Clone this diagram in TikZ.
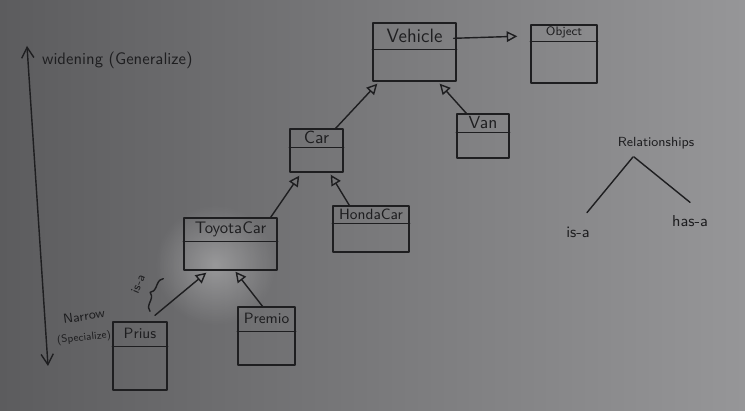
\documentclass[tikz,border=0pt]{standalone}
\usepackage{tikz}
\usetikzlibrary{calc, arrows.meta, decorations.pathreplacing, fadings}

\definecolor{board}{RGB}{128,128,130}
\definecolor{boardlite}{RGB}{150,150,152}
\definecolor{boarddark}{RGB}{92,92,94}
\definecolor{marker}{RGB}{30,30,32}

\tikzfading[name=glare, inner color=transparent!70, outer color=transparent!100]

\tikzset{
  ink/.style={draw=marker, line width=0.8pt, line cap=round, line join=round},
  classbox/.style={ink, rectangle, inner sep=0pt},
  word/.style={text=marker, font=\sffamily, inner sep=1pt},
  isa/.style={ink, -{Triangle[open, length=6pt, width=6pt]}},
  span/.style={ink, {Straight Barb[length=6pt, width=7pt]}-{Straight Barb[length=6pt, width=7pt]}},
}

\begin{document}
\begin{tikzpicture}[x=0.02cm, y=-0.02cm]
  % board
  \useasboundingbox (0,0) rectangle (745,411);
  \shade[left color=boarddark, right color=boardlite] (0,0) rectangle (745,411);
  \fill[white, path fading=glare] (215,265) circle (60);

  % classes: name/x/y/w/h/split/font size/label
  \foreach \cls/\x/\y/\w/\h/\sp/\fs/\lbl in {
      vehicle/373/23/83/58/27/11/Vehicle,
      object/531/25/66/58/17/7/Object,
      car/290/129/53/43/19/10/Car,
      van/457/114/52/44/19/10/Van,
      toyota/184/218/93/52/24/9.5/ToyotaCar,
      honda/333/206/76/46/18/8.5/HondaCar,
      prius/113/322/54/68/25/8.5/Prius,
      premio/238/307/57/58/25/8.5/Premio}{
    \node[classbox, minimum width=\w*0.2mm, minimum height=\h*0.2mm] (\cls) at (\x+\w/2, \y+\h/2) {};
    \draw[ink] ($(\cls.north west)+(0,\sp)$) -- ($(\cls.north east)+(0,\sp)$);
    \node[word, font=\sffamily\fontsize{\fs}{\fs}\selectfont] (\cls-name) at ($(\cls.north)+(0,\sp/2)$) {\lbl};
  }

  % inheritance
  \draw[isa] ($(vehicle.north east)+(-3,16)$) -- ($(object.north west)+(-13,12)$);
  \draw[isa] ($(car.north east)+(-8,0)$) -- ($(vehicle.south west)+(5,2)$);
  \draw[isa] ($(van.north west)+(10,0)$) -- ($(vehicle.south east)+(-17,2)$);
  \draw[isa] ($(toyota.north east)+(-7,0)$) -- ($(car.south west)+(10,3)$);
  \draw[isa] ($(honda.north west)+(17,0)$) -- ($(car.south east)+(-13,2)$);
  \draw[isa] ($(prius.north)+(15,-6)$) -- ($(toyota.south west)+(23,2)$);
  \draw[isa] ($(premio.north)+(-4,0)$) -- ($(toyota.south)+(5,1)$);

  % is-a brace
  \draw[ink, decorate, decoration={brace, amplitude=4pt}] ($(prius.north)+(10,-10)$) -- ($(toyota.south west)+(-20,8)$);
  \node[word, rotate=67, font=\sffamily\fontsize{7}{7}\selectfont] (isalbl) at (138,284) {is-a};

  % generalize / specialize
  \coordinate (wide) at (27,46);
  \coordinate (narrow) at (48,366);
  \draw[span] (narrow) -- (wide);
  \node[word, anchor=west, font=\sffamily\fontsize{9.5}{9.5}\selectfont] (widening) at (40,60) {widening (Generalize)};
  \node[word, rotate=8, font=\sffamily\fontsize{7.5}{7.5}\selectfont] (narrowing) at (84,316) {Narrow};
  \node[word, rotate=6, font=\sffamily\fontsize{6}{6}\selectfont] (specialize) at (84,338) {(Specialize)};

  % relationships
  \node[word, font=\sffamily\fontsize{7.5}{7.5}\selectfont] (rel) at (656,143) {Relationships};
  \node[word, font=\sffamily\fontsize{9}{9}\selectfont] (isa) at (578,232) {is-a};
  \node[word, font=\sffamily\fontsize{9}{9}\selectfont] (hasa) at (690,221) {has-a};
  \draw[ink] ($(rel.south)+(-23,6)$) -- ($(isa.north)+(9,-12)$);
  \draw[ink] ($(rel.south)+(-22,6)$) -- ($(hasa.north)+(0,-11)$);
\end{tikzpicture}
\end{document}
